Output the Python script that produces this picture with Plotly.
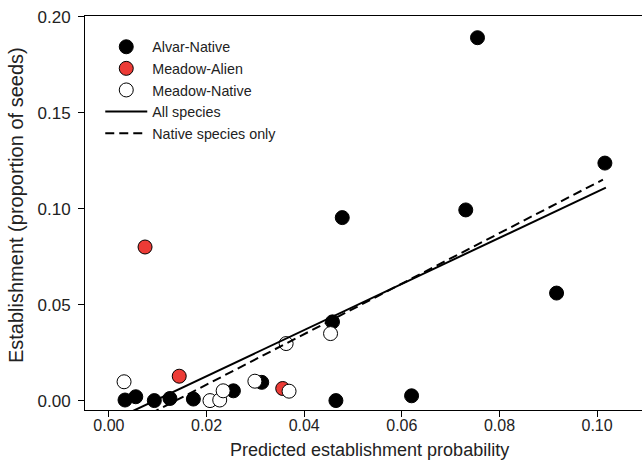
import plotly.graph_objects as go

# ---- data ----
alvar_x = [0.0033, 0.0055, 0.0093, 0.0125, 0.0173, 0.0255, 0.0313, 0.0458, 0.0465,
           0.0478, 0.0620, 0.0731, 0.0755, 0.0917, 0.1016]
alvar_y = [0.0003, 0.0020, 0.0000, 0.0011, 0.0008, 0.0051, 0.0095, 0.0410, 0.0000,
           0.0953, 0.0025, 0.0993, 0.1890, 0.0560, 0.1237]

alien_x = [0.0074, 0.0144, 0.0356]
alien_y = [0.0800, 0.0127, 0.0063]

mnative_x = [0.0031, 0.0207, 0.0227, 0.0234, 0.0299, 0.0363, 0.0369, 0.0454]
mnative_y = [0.0098, 0.0000, 0.0003, 0.0051, 0.0101, 0.0297, 0.0049, 0.0349]

# regression fits: (slope, intercept) and x extent
fit_all = (1.201, -0.0113)
fit_native = (1.315, -0.0180)
fit_x = [0.0030, 0.1018]
fit_native_x = [0.0060, 0.1012]

x_ticks = [0, 0.02, 0.04, 0.06, 0.08, 0.10]
x_ticklabels = ["0.00", "0.02", "0.04", "0.06", "0.08", "0.10"]
y_ticks = [0, 0.05, 0.10, 0.15, 0.20]
y_ticklabels = ["0.00", "0.05", "0.10", "0.15", "0.20"]

series_names = ["Alvar-Native", "Meadow-Alien", "Meadow-Native", "All species", "Native species only"]
x_title = "Predicted establishment probability"
y_title = "Establishment (proportion of seeds)"

FONT = "Liberation Sans, Arial, sans-serif"
TXT = "#222"

fig = go.Figure()

marker_common = dict(size=14, line=dict(color="black", width=1))
fig.add_trace(go.Scatter(x=alvar_x, y=alvar_y, mode="markers", name=series_names[0],
                         marker=dict(color="black", **marker_common)))
fig.add_trace(go.Scatter(x=alien_x, y=alien_y, mode="markers", name=series_names[1],
                         marker=dict(color="#ec3b36", **marker_common)))
fig.add_trace(go.Scatter(x=mnative_x, y=mnative_y, mode="markers", name=series_names[2],
                         marker=dict(color="white", **marker_common)))

fig.add_trace(go.Scatter(x=fit_x, y=[fit_all[0] * v + fit_all[1] for v in fit_x],
                         mode="lines", name=series_names[3],
                         line=dict(color="black", width=2)))
fig.add_trace(go.Scatter(x=fit_native_x, y=[fit_native[0] * v + fit_native[1] for v in fit_native_x],
                         mode="lines", name=series_names[4],
                         line=dict(color="black", width=2, dash="9px,5px")))

axis_common = dict(
    showgrid=False, zeroline=False, showline=True, linecolor="black", linewidth=1,
    ticks="outside", ticklen=6, tickwidth=1, tickcolor="black", automargin=False,
)

fig.update_xaxes(range=[-0.0049, 0.1092], tickvals=x_ticks, ticktext=x_ticklabels,
                 mirror=True, ticklabelstandoff=-5,
                 tickfont=dict(family=FONT, size=16, color=TXT), **axis_common)
fig.update_yaxes(range=[-0.0049, 0.2003], tickvals=y_ticks, ticktext=y_ticklabels,
                 ticklabelstandoff=4,
                 tickfont=dict(family=FONT, size=17, color=TXT), **axis_common)

fig.add_annotation(text=x_title, xref="paper", yref="paper", x=0.51, y=-0.1015,
                   xanchor="center", yanchor="middle", showarrow=False,
                   font=dict(family=FONT, size=18, color=TXT))
fig.add_annotation(text=y_title, xref="paper", yref="paper", x=-0.124, y=0.520,
                   xanchor="center", yanchor="middle", textangle=-90, showarrow=False,
                   font=dict(family=FONT, size=20, color=TXT))

fig.update_layout(
    width=642, height=465,
    margin=dict(l=85, r=0, t=16, b=55),
    plot_bgcolor="white", paper_bgcolor="white",
    showlegend=True,
    legend=dict(x=0.0274, y=0.962, xanchor="left", yanchor="top",
                bgcolor="rgba(0,0,0,0)", font=dict(family=FONT, size=14.3, color=TXT),
                tracegroupgap=0, itemwidth=42),
)

fig.write_html("out.html", config={"displayModeBar": False},
               post_script="document.body.style.margin='0';document.body.style.overflow='hidden';")
